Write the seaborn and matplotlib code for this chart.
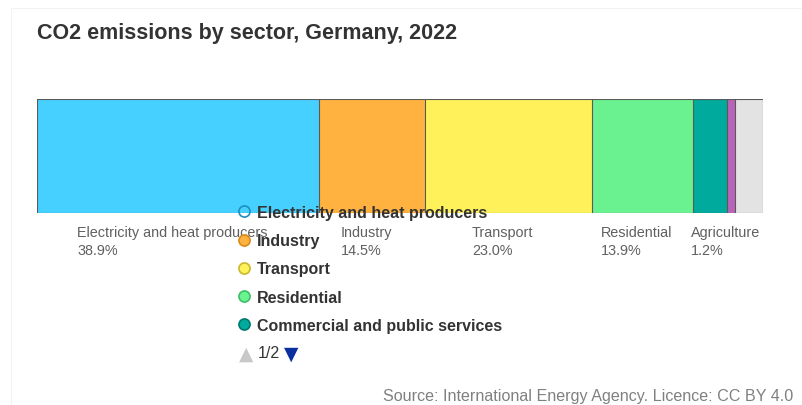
import numpy as np
import pandas as pd
import seaborn as sns
import matplotlib.pyplot as plt
from matplotlib.lines import Line2D

sns.set_theme(style="white")
plt.rcParams["font.family"] = ["Liberation Sans", "DejaVu Sans"]

# Sector shares of CO2 emissions (percent)
sectors = [
    "Electricity and heat producers",
    "Industry",
    "Transport",
    "Residential",
    "Commercial and public services",
    "Agriculture",
    "Final consumption not elsewhere specified",
]
shares = [38.9, 14.5, 23.0, 13.9, 4.7, 1.2, 3.8]
colors = ["#45d0ff", "#ffb23f", "#fff159", "#69f28f", "#00aa9c", "#b964b9", "#e3e3e3"]
edge_colors = ["#1f8fbf", "#d98a1a", "#c9b92a", "#3fbf66", "#007a70", "#8a3f8a", "#aaaaaa"]
labelled = ["Electricity and heat producers", "Industry", "Transport", "Residential", "Agriculture"]
legend_page = sectors[:5]

cum = np.cumsum(shares)
df = pd.DataFrame({
    "sector": sectors,
    "share": shares,
    "end": cum,
    "mid": cum - np.array(shares) / 2,
    "country": "Germany",
})

W, H = 803, 406
fig = plt.figure(figsize=(W / 100, H / 100), dpi=100)

# faint card border
fig.add_artist(Line2D([11 / W, 1], [1 - 9 / H, 1 - 9 / H], color="#f3f3f3", lw=0.8))
fig.add_artist(Line2D([11 / W, 11 / W], [0, 1 - 9 / H], color="#f3f3f3", lw=0.8))

ax = fig.add_axes([37 / W, 1 - 214 / H, 726 / W, 114 / H])

# stacked bar: overlay cumulative bars, widest drawn first
palette = dict(zip(sectors, colors))
sns.barplot(
    data=df, x="end", y="country", hue="sector",
    hue_order=sectors[::-1], palette=palette, dodge=False,
    saturation=1, width=1, edgecolor="#5a5a5a", linewidth=0.8,
    legend=False, ax=ax, orient="h",
)
ax.set_xlim(0, 100)
ax.set_ylim(0.5, -0.5)
ax.axis("off")

# sector name and share under each labelled segment, aligned on the last baseline
for _, row in df[df["sector"].isin(labelled)].iterrows():
    ax.annotate(
        f"{row['sector']}\n{row['share']:.1f}%",
        xy=(row["mid"], 0.5), xycoords="data",
        xytext=(-4, -29.5), textcoords="offset points",
        ha="center", va="baseline", multialignment="left",
        fontsize=10.4, color="#606060", linespacing=1.35,
    )

# legend (page 1 of 2)
handles = []
for name in legend_page:
    i = sectors.index(name)
    face = "none" if i == 0 else colors[i]
    handles.append(Line2D([], [], marker="o", linestyle="none", markersize=8,
                          markerfacecolor=face, markeredgecolor=edge_colors[i],
                          markeredgewidth=1.2, label=name))
leg = fig.legend(
    handles=handles, loc="upper left", bbox_to_anchor=(227 / W, 1 - 198 / H),
    frameon=False, fontsize=11.5, labelspacing=0.83, handletextpad=0.3,
    handlelength=1.1, borderpad=0,
)
for t in leg.get_texts():
    t.set_fontweight("bold")
    t.set_color("#333333")

# pager
fig.text(239 / W, 1 - 354 / H, "▲", fontsize=13.5, color="#c8c8c8", va="center",
         family="DejaVu Sans")
fig.text(258 / W, 1 - 354 / H, "1/2", fontsize=11.5, color="#333333", va="center")
fig.text(284 / W, 1 - 354 / H, "▼", fontsize=13.5, color="#0a2f9e", va="center",
         family="DejaVu Sans")

fig.text(37 / W, 1 - 34 / H, "CO2 emissions by sector, Germany, 2022",
         fontsize=15.5, fontweight="bold", color="#333333", va="center")
fig.text(793 / W, 1 - 397 / H, "Source: International Energy Agency. Licence: CC BY 4.0",
         fontsize=11.6, color="#808080", va="center", ha="right")

fig.savefig("out.png", dpi=100)
